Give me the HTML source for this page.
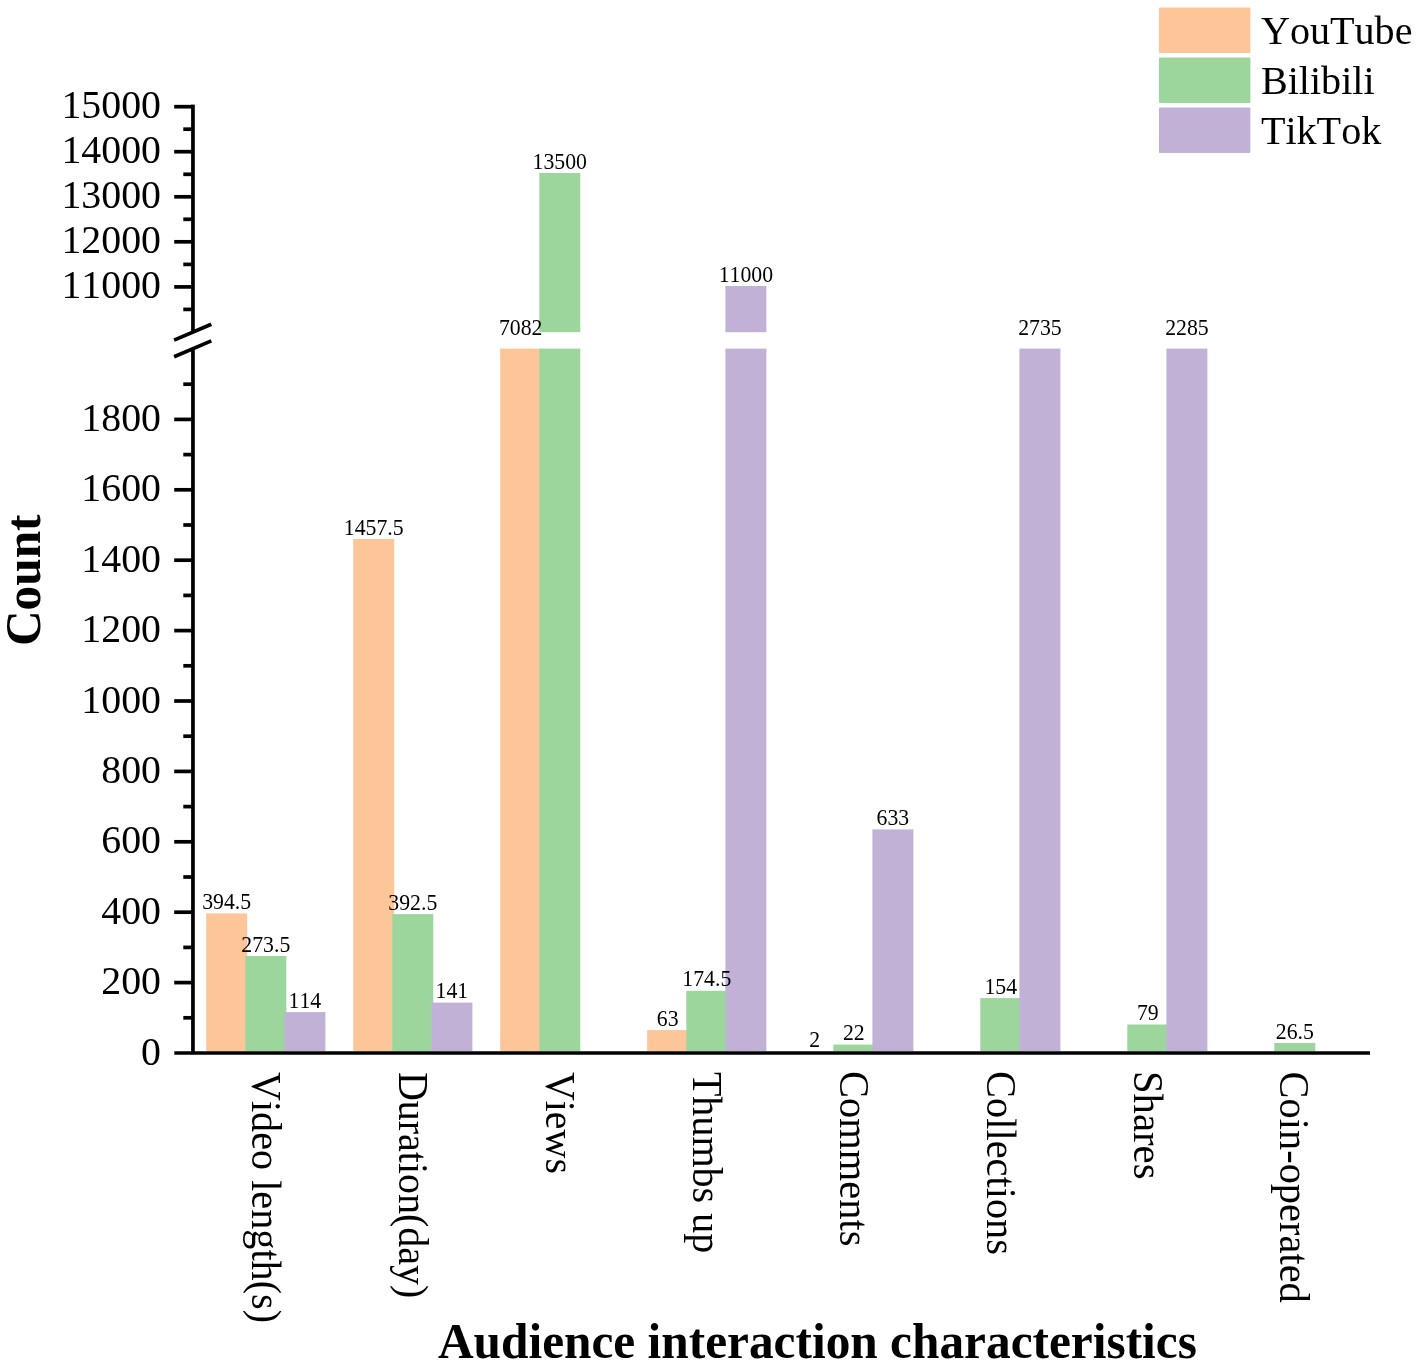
<!DOCTYPE html>
<html lang="en"><head><meta charset="utf-8"><title>Audience interaction characteristics</title>
<style>
html,body{margin:0;padding:0;background:#fff;}
body{width:1418px;height:1366px;overflow:hidden;}
svg{display:block;will-change:transform;font-family:"Liberation Serif","Times New Roman",serif;fill:#000;font-kerning:none;}
.tick{font-size:41.0px;text-anchor:end;}
.val{font-size:23.6px;text-anchor:middle;}
.cat{font-size:42.5px;}
.leg{font-size:40.3px;}
.ttl{font-size:50.6px;font-weight:bold;text-anchor:middle;}
.ax{stroke:#000;stroke-width:3.7;fill:none;}
</style></head><body>
<svg width="1418" height="1366" viewBox="0 0 1418 1366">
<rect width="1418" height="1366" fill="#fff"/>

<rect x="206.2" y="913.4" width="41.0" height="137.8" fill="#FCC698"/>
<rect x="245.3" y="956.0" width="41.0" height="95.2" fill="#9DD69C"/>
<rect x="284.4" y="1012.1" width="41.0" height="39.1" fill="#C2B1D7"/>
<rect x="353.2" y="539.0" width="41.0" height="512.2" fill="#FCC698"/>
<rect x="392.3" y="914.1" width="41.0" height="137.1" fill="#9DD69C"/>
<rect x="431.4" y="1002.6" width="41.0" height="48.6" fill="#C2B1D7"/>
<rect x="500.2" y="348.6" width="41.0" height="702.6" fill="#FCC698"/>
<rect x="539.3" y="348.6" width="41.0" height="702.6" fill="#9DD69C"/>
<rect x="539.3" y="173.0" width="41.0" height="159.2" fill="#9DD69C"/>
<rect x="647.2" y="1030.1" width="41.0" height="21.1" fill="#FCC698"/>
<rect x="686.3" y="990.8" width="41.0" height="60.4" fill="#9DD69C"/>
<rect x="725.4" y="348.6" width="41.0" height="702.6" fill="#C2B1D7"/>
<rect x="725.4" y="286.0" width="41.0" height="46.2" fill="#C2B1D7"/>
<rect x="833.3" y="1044.6" width="41.0" height="6.6" fill="#9DD69C"/>
<rect x="872.4" y="829.4" width="41.0" height="221.8" fill="#C2B1D7"/>
<rect x="980.3" y="998.1" width="41.0" height="53.1" fill="#9DD69C"/>
<rect x="1019.4" y="348.6" width="41.0" height="702.6" fill="#C2B1D7"/>
<rect x="1127.3" y="1024.5" width="41.0" height="26.7" fill="#9DD69C"/>
<rect x="1166.4" y="348.6" width="41.0" height="702.6" fill="#C2B1D7"/>
<rect x="1274.3" y="1043.0" width="41.0" height="8.2" fill="#9DD69C"/>
<text class="val" transform="translate(226.7,909.0) scale(0.922,1)">394.5</text>
<text class="val" transform="translate(265.8,951.6) scale(0.922,1)">273.5</text>
<text class="val" transform="translate(304.9,1007.7) scale(0.922,1)">114</text>
<text class="val" transform="translate(373.7,534.6) scale(0.922,1)">1457.5</text>
<text class="val" transform="translate(412.8,909.7) scale(0.922,1)">392.5</text>
<text class="val" transform="translate(451.9,998.2) scale(0.922,1)">141</text>
<text class="val" transform="translate(520.7,334.8) scale(0.922,1)">7082</text>
<text class="val" transform="translate(559.8,168.6) scale(0.922,1)">13500</text>
<text class="val" transform="translate(667.7,1025.7) scale(0.922,1)">63</text>
<text class="val" transform="translate(706.8,986.4) scale(0.922,1)">174.5</text>
<text class="val" transform="translate(745.9,281.6) scale(0.922,1)">11000</text>
<text class="val" transform="translate(814.7,1047.2) scale(0.922,1)">2</text>
<text class="val" transform="translate(853.8,1040.2) scale(0.922,1)">22</text>
<text class="val" transform="translate(892.9,825.0) scale(0.922,1)">633</text>
<text class="val" transform="translate(1000.8,993.7) scale(0.922,1)">154</text>
<text class="val" transform="translate(1039.9,334.8) scale(0.922,1)">2735</text>
<text class="val" transform="translate(1147.8,1020.1) scale(0.922,1)">79</text>
<text class="val" transform="translate(1186.9,334.8) scale(0.922,1)">2285</text>
<text class="val" transform="translate(1294.8,1038.6) scale(0.922,1)">26.5</text>
<path class="ax" d="M192.95,104.65 V332.3"/>
<path class="ax" d="M192.95,348.6 V1053.0"/>
<path class="ax" d="M174.3,1053.0 H1370"/>
<path class="ax" d="M174.1,340.1 L211.3,324.3 M174.1,356.8 L211.3,340.9"/>
<path class="ax" d="M174.2,982.6 H192.95"/>
<text class="tick" transform="translate(161.0,994.1) scale(0.972,1)">200</text>
<path class="ax" d="M174.2,912.2 H192.95"/>
<text class="tick" transform="translate(161.0,923.7) scale(0.972,1)">400</text>
<path class="ax" d="M174.2,841.8 H192.95"/>
<text class="tick" transform="translate(161.0,853.3) scale(0.972,1)">600</text>
<path class="ax" d="M174.2,771.4 H192.95"/>
<text class="tick" transform="translate(161.0,782.9) scale(0.972,1)">800</text>
<path class="ax" d="M174.2,701.0 H192.95"/>
<text class="tick" transform="translate(161.0,712.5) scale(0.972,1)">1000</text>
<path class="ax" d="M174.2,630.6 H192.95"/>
<text class="tick" transform="translate(161.0,642.1) scale(0.972,1)">1200</text>
<path class="ax" d="M174.2,560.2 H192.95"/>
<text class="tick" transform="translate(161.0,571.7) scale(0.972,1)">1400</text>
<path class="ax" d="M174.2,489.8 H192.95"/>
<text class="tick" transform="translate(161.0,501.3) scale(0.972,1)">1600</text>
<path class="ax" d="M174.2,419.4 H192.95"/>
<text class="tick" transform="translate(161.0,430.9) scale(0.972,1)">1800</text>
<path class="ax" d="M183.3,1017.8 H192.95"/>
<path class="ax" d="M183.3,947.4 H192.95"/>
<path class="ax" d="M183.3,877.0 H192.95"/>
<path class="ax" d="M183.3,806.6 H192.95"/>
<path class="ax" d="M183.3,736.2 H192.95"/>
<path class="ax" d="M183.3,665.8 H192.95"/>
<path class="ax" d="M183.3,595.4 H192.95"/>
<path class="ax" d="M183.3,525.0 H192.95"/>
<path class="ax" d="M183.3,454.6 H192.95"/>
<path class="ax" d="M183.3,384.2 H192.95"/>
<path class="ax" d="M174.2,286.9 H192.95"/>
<text class="tick" transform="translate(161.0,298.4) scale(0.972,1)">11000</text>
<path class="ax" d="M174.2,241.8 H192.95"/>
<text class="tick" transform="translate(161.0,253.3) scale(0.972,1)">12000</text>
<path class="ax" d="M174.2,196.8 H192.95"/>
<text class="tick" transform="translate(161.0,208.3) scale(0.972,1)">13000</text>
<path class="ax" d="M174.2,151.7 H192.95"/>
<text class="tick" transform="translate(161.0,163.2) scale(0.972,1)">14000</text>
<path class="ax" d="M174.2,106.7 H192.95"/>
<text class="tick" transform="translate(161.0,118.2) scale(0.972,1)">15000</text>
<path class="ax" d="M183.3,309.4 H192.95"/>
<path class="ax" d="M183.3,264.4 H192.95"/>
<path class="ax" d="M183.3,219.3 H192.95"/>
<path class="ax" d="M183.3,174.3 H192.95"/>
<path class="ax" d="M183.3,129.2 H192.95"/>
<text class="tick" transform="translate(161.0,1064.5) scale(0.972,1)">0</text>
<text class="cat" transform="translate(252.0,1071.9) rotate(90) scale(0.946,1)">Video length(s)</text>
<text class="cat" transform="translate(399.0,1071.9) rotate(90) scale(0.941,1)">Duration(day)</text>
<text class="cat" transform="translate(546.0,1071.9) rotate(90) scale(0.94,1)">Views</text>
<text class="cat" transform="translate(693.0,1071.9) rotate(90) scale(0.9425,1)">Thumbs up</text>
<text class="cat" transform="translate(840.0,1071.1) rotate(90) scale(0.9525,1)">Comments</text>
<text class="cat" transform="translate(987.0,1071.1) rotate(90) scale(0.95,1)">Collections</text>
<text class="cat" transform="translate(1134.0,1070.9) rotate(90) scale(0.959,1)">Shares</text>
<text class="cat" transform="translate(1280.0,1071.6) rotate(90) scale(0.951,1)">Coin-operated</text>
<text class="ttl" transform="translate(817.4,1357.6) scale(0.975,1)">Audience interaction characteristics</text>
<text class="ttl" transform="translate(40.4,580.3) rotate(-90) scale(0.975,1)">Count</text>
<rect x="1159" y="7.5" width="91.4" height="45.4" rx="1" fill="#FCC698"/>
<text class="leg" transform="translate(1260.9,43.9) scale(0.996,1)">YouTube</text>
<rect x="1159" y="57.5" width="91.4" height="45.4" rx="1" fill="#9DD69C"/>
<text class="leg" transform="translate(1260.9,93.9) scale(0.996,1)">Bilibili</text>
<rect x="1159" y="107.5" width="91.4" height="45.4" rx="1" fill="#C2B1D7"/>
<text class="leg" transform="translate(1260.9,143.9) scale(0.996,1)">TikTok</text>
</svg></body></html>
